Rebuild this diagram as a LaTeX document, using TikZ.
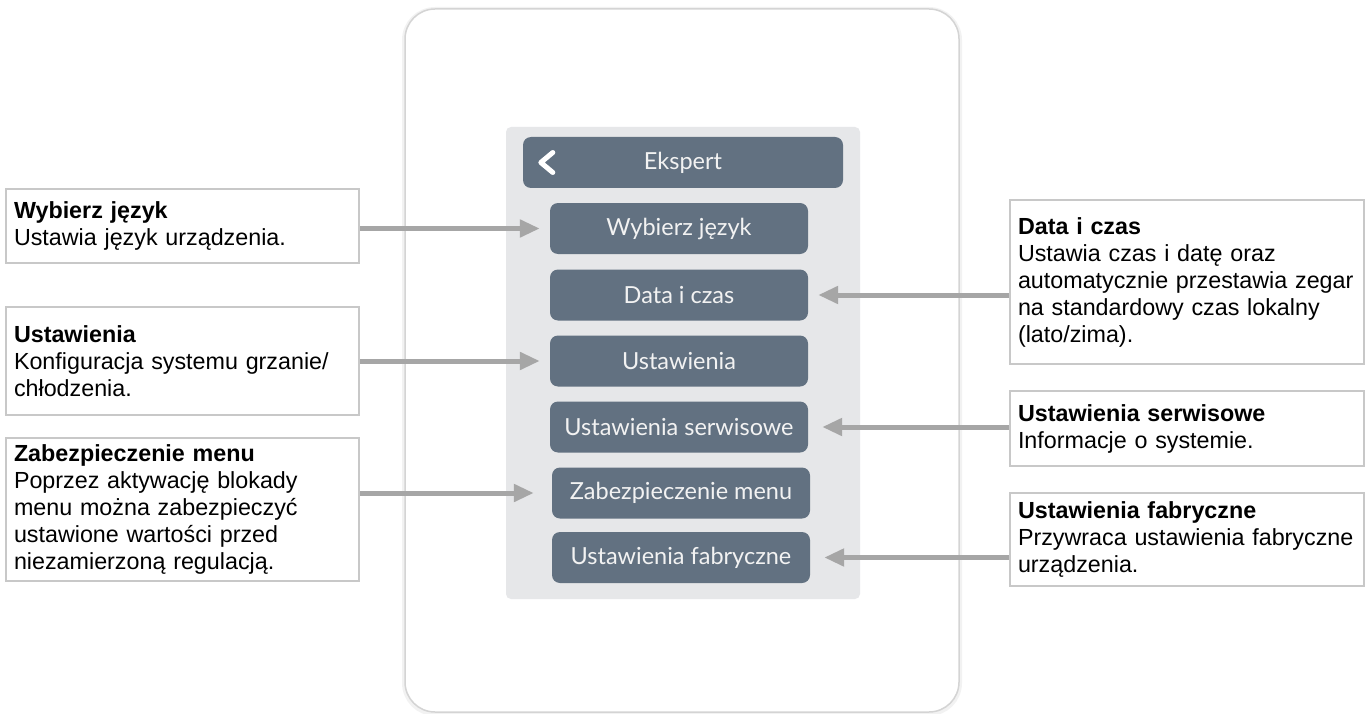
\documentclass[tikz,border=0pt]{standalone}
\usepackage{fontspec}
\setmainfont{Liberation Sans}
\newfontfamily\btnfont{Lato}
\usepackage{tikz}
\usetikzlibrary{calc,positioning,arrows.meta}

\definecolor{btngray}{RGB}{98,113,129}
\definecolor{panelgray}{RGB}{230,231,233}
\definecolor{arrowgray}{RGB}{166,166,166}
\definecolor{notegray}{RGB}{200,200,200}
\definecolor{framegray}{RGB}{212,212,212}

\tikzset{
	note/.style={draw=notegray,line width=2,fill=white,anchor=north west,inner xsep=8,inner ysep=2,text width=#1,align=left,font=\fontsize{23.3}{27}\selectfont},
	btn/.style={fill=btngray,rounded corners=8,minimum width=258,minimum height=51,inner sep=0,text=white!95!black,font=\btnfont\fontsize{23.5}{27}\selectfont},
	pointer/.style={draw=arrowgray,line width=5,-{Triangle[length=20pt,width=17pt]},shorten >=10}
}

\begin{document}
\begin{tikzpicture}[x=1pt,y=-1pt]
	\useasboundingbox (0,0) rectangle (1367,714);
	% device and screen
	\draw[black!5,line width=6,rounded corners=30] (405,10) rectangle (959,713);
	\draw[framegray,line width=1.5,fill=white,rounded corners=30] (405,9) rectangle (959,712);
	\fill[panelgray,rounded corners=5] (506,127) rectangle (860,599);
	% menu
	\node(head) [btn,minimum width=320] at (683,162.5) {Ekspert};
	\draw[white,line width=5,line cap=round,line join=round] ($(head.west)+(30,-10)$) -- ++(-12,10) -- ++(12,10);
	\node(bLang) [btn] at (679,228.5) {Wybierz język};
	\node(bTime) [btn] at (679,295) {Data i czas};
	\node(bSet) [btn] at (679,361) {Ustawienia};
	\node(bServ) [btn] at (679,427) {Ustawienia serwisowe};
	\node(bLock) [btn] at (681,493) {Zabezpieczenie menu};
	\node(bReset) [btn] at (681,557.5) {Ustawienia fabryczne};
	% notes left
	\node(lang) [note=337,minimum height=74] at (5,188) {\textbf{Wybierz język}\\Ustawia język urządzenia.};
	\node(set) [note=337,minimum height=108] at (5,306) {\textbf{Ustawienia}\\Konfiguracja systemu grzanie/\\chłodzenia.};
	\node(lock) [note=337,minimum height=143] at (5,437) {\textbf{Zabezpieczenie menu}\\Poprzez aktywację blokady\\menu można zabezpieczyć\\ustawione wartości przed\\niezamierzoną regulacją.};
	% notes right
	\node(time) [note=338,minimum height=164] at (1009,199) {\textbf{Data i czas}\\Ustawia czas i datę oraz\\automatycznie przestawia zegar\\na standardowy czas lokalny\\(lato/zima).};
	\node(serv) [note=338,minimum height=75] at (1009,390) {\textbf{Ustawienia serwisowe}\\Informacje o systemie.};
	\node(reset) [note=338,minimum height=93] at (1009,492) {\textbf{Ustawienia fabryczne}\\Przywraca ustawienia fabryczne\\urządzenia.};
	% arrows
	\draw[pointer] (lang.east |- bLang.west) -- (bLang.west);
	\draw[pointer] (set.east |- bSet.west) -- (bSet.west);
	\draw[pointer,shorten >=18] (lock.east |- bLock.west) -- (bLock.west);
	\draw[pointer] (time.west |- bTime.east) -- (bTime.east);
	\draw[pointer,shorten >=14] (serv.west |- bServ.east) -- (bServ.east);
	\draw[pointer,shorten >=14] (reset.west |- bReset.east) -- (bReset.east);
\end{tikzpicture}
\end{document}
